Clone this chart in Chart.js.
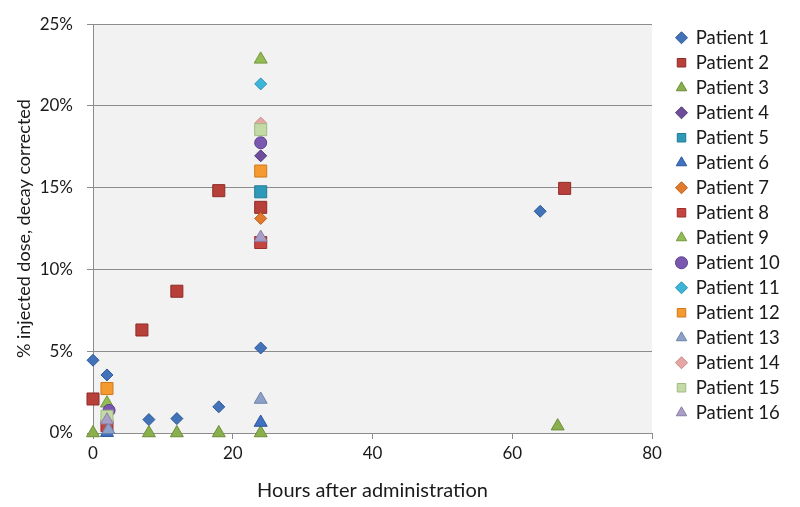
<!DOCTYPE html>
<html>
<head>
<meta charset="utf-8">
<script src="https://cdn.jsdelivr.net/npm/chart.js@4/dist/chart.umd.min.js"></script>
<style>
html,body{margin:0;padding:0;background:#fff;}
#wrap{width:800px;height:507px;position:relative;}
</style>
</head>
<body>
<div id="wrap"><canvas id="c" width="800" height="507"></canvas></div>
<script>
// ---- data (hours, % injected dose) ----
const seriesNames = ["Patient 1","Patient 2","Patient 3","Patient 4","Patient 5","Patient 6","Patient 7","Patient 8","Patient 9","Patient 10","Patient 11","Patient 12","Patient 13","Patient 14","Patient 15","Patient 16"];
const p1Hours = [0, 2, 8, 12, 18, 24, 64];
const p1Dose  = [4.45, 3.55, 0.82, 0.88, 1.6, 5.2, 13.56];
const p2Hours = [0, 7, 12, 18, 24, 67.5];
const p2Dose  = [2.08, 6.3, 8.67, 14.82, 13.8, 14.96];
const p3Hours = [0, 8, 12, 18, 24, 66.5];
const p3Dose  = [0, 0, 0, 0, 0, 0.42];
const p4Hours = [24];
const p4Dose  = [16.95];
const p5Hours = [24];
const p5Dose  = [14.75];
const p6Hours = [2, 24];
const p6Dose  = [0.02, 0.64];
const p7Hours = [24];
const p7Dose  = [13.12];
const p8Hours = [2, 24];
const p8Dose  = [0.45, 11.65];
const p9Hours = [2, 24];
const p9Dose  = [1.82, 22.85];
const p10Hours = [2.3, 24];
const p10Dose  = [1.38, 17.75];
const p11Hours = [24];
const p11Dose  = [21.35];
const p12Hours = [2, 24];
const p12Dose  = [2.72, 16.02];
const p13Hours = [2.2, 24];
const p13Dose  = [0.2, 2.05];
const p14Hours = [24];
const p14Dose  = [18.95];
const p15Hours = [2, 24];
const p15Dose  = [1.02, 18.55];
const p16Hours = [2, 24];
const p16Dose  = [0.78, 11.95];
const xTicks = [0, 20, 40, 60, 80];
const yTicks = [0, 5, 10, 15, 20, 25];

const hoursList = [p1Hours,p2Hours,p3Hours,p4Hours,p5Hours,p6Hours,p7Hours,p8Hours,p9Hours,p10Hours,p11Hours,p12Hours,p13Hours,p14Hours,p15Hours,p16Hours];
const doseList  = [p1Dose,p2Dose,p3Dose,p4Dose,p5Dose,p6Dose,p7Dose,p8Dose,p9Dose,p10Dose,p11Dose,p12Dose,p13Dose,p14Dose,p15Dose,p16Dose];

// ---- styles ----
const styles = [
  ['rectRot','#4272B8','#2E5A99',6],
  ['rect','#B8403B','#8E2B27',8.5],
  ['triangle','#8AB04E','#6C8D38',7.5],
  ['rectRot','#6E4E9A','#533878',6],
  ['rect','#2F9AB8','#227A93',8.5],
  ['triangle','#3F72C2','#2C5698',7.5],
  ['rectRot','#E27A2C','#B95F1C',6],
  ['rect','#C4443F','#9A2F2B',8.5],
  ['triangle','#93BC55','#74983E',7.5],
  ['circle','#7B58B0','#5C3F8C',6],
  ['rectRot','#3DB5D8','#2B93B2',6],
  ['rect','#F59A30','#CD7A1C',8.5],
  ['triangle','#8DA1C7','#6E83AB',7.5],
  ['rectRot','#E4A7A5','#C48886',6],
  ['rect','#C3D9A6','#A1BB82',8.5],
  ['triangle','#A99EC6','#8A7FA8',7.5]
];

const datasets = seriesNames.map((name, i) => ({
  label: name,
  data: hoursList[i].map((h, j) => ({x: h, y: doseList[i][j]})),
  pointStyle: styles[i][0],
  backgroundColor: styles[i][1],
  borderColor: styles[i][2],
  borderWidth: 1,
  pointRadius: styles[i][3],
  pointHoverRadius: styles[i][3],
  showLine: false,
  clip: false,
  order: -i
}));

const FONT = 'Lato, "Liberation Sans", sans-serif';

const plotBg = {
  id: 'plotBg',
  beforeDraw(chart) {
    const a = chart.chartArea, ctx = chart.ctx;
    ctx.save();
    ctx.fillStyle = '#f2f2f2';
    ctx.fillRect(a.left, a.top, a.right - a.left, a.bottom - a.top);
    ctx.restore();
  }
};

const legendFix = {
  id: 'legendFix',
  afterInit(chart) {
    const lg = chart.legend;
    if (lg && !lg._wrapped) {
      const orig = lg.fit.bind(lg);
      lg.fit = function() { orig(); this.width = 148; };
      lg._wrapped = true;
    }
  },
  afterLayout(chart) {
    const lg = chart.legend;
    lg.left = chart.chartArea.right + 18;
    lg.right = lg.left + 148;
    lg.top = 22;
    lg.bottom = 507;
  }
};

new Chart(document.getElementById('c'), {
  type: 'scatter',
  data: { datasets },
  plugins: [plotBg, legendFix],
  options: {
    responsive: false,
    animation: false,
    devicePixelRatio: 1,
    layout: { padding: { top: 17, right: 0, bottom: 0, left: 0 } },
    plugins: {
      tooltip: { enabled: false },
      legend: {
        position: 'right',
        align: 'start',
        reverse: true,
        labels: {
          usePointStyle: true,
          boxWidth: 10,
          boxHeight: 8.5,
          padding: 6.5,
          color: '#1a1a1a',
          font: { family: FONT, size: 18.5 }
        }
      }
    },
    scales: {
      x: {
        type: 'linear',
        min: 0, max: 80,
        afterBuildTicks(scale) { scale.ticks = xTicks.map(v => ({value: v})); },
        afterFit(scale) { scale.height = 74; },
        grid: { display: true, drawOnChartArea: false, drawTicks: true, tickLength: 6, color: '#8c8c8c' },
        border: { display: true, color: '#8c8c8c', width: 1 },
        ticks: { color: '#1a1a1a', font: { family: FONT, size: 17 }, padding: 4, maxRotation: 0 },
        title: { display: true, text: 'Hours after administration', color: '#1a1a1a', font: { family: FONT, size: 20 }, padding: { top: 4 } }
      },
      y: {
        type: 'linear',
        min: 0, max: 25,
        afterBuildTicks(scale) { scale.ticks = yTicks.map(v => ({value: v})); },
        afterFit(scale) { scale.width = 93; },
        grid: { display: true, drawTicks: true, tickLength: 6, color: '#8c8c8c' },
        border: { display: true, color: '#8c8c8c', width: 1 },
        ticks: { color: '#1a1a1a', font: { family: FONT, size: 17 }, padding: 14, callback: v => v + '%' },
        title: { display: true, text: '% injected dose, decay corrected', color: '#1a1a1a', font: { family: FONT, size: 18 }, padding: { top: 13, bottom: 0 } }
      }
    }
  }
});
</script>
</body>
</html>
